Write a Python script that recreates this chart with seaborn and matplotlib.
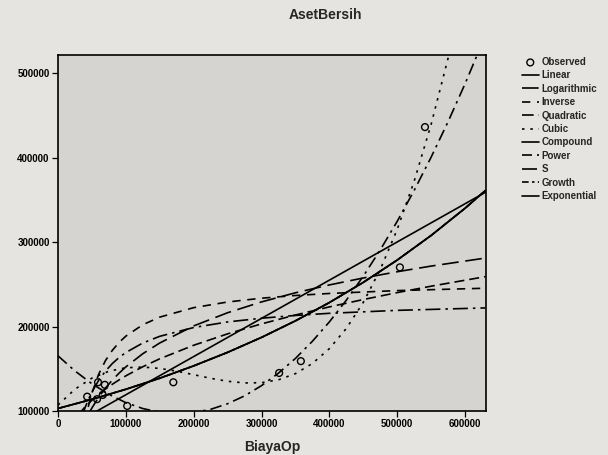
import numpy as np
import seaborn as sns
import matplotlib.pyplot as plt

# values (in thousands)
obs_x = [43, 57.5, 59, 66, 69, 102, 170, 326, 358, 504, 541]
obs_y = [117, 114, 134, 119, 131, 106, 134, 145, 159, 270, 436]

linear_x = [0, 630]
linear_y = [74, 358.8]

log_x = [45, 50, 60, 70, 80, 90, 100, 125, 150, 200, 250, 300, 350, 400, 450, 500, 550, 630]
log_y = [96.3, 103.6, 116.4, 127.2, 136.5, 144.8, 152.2, 167.8, 180.5, 200.7, 216.3,
         229.1, 239.9, 249.2, 257.4, 264.8, 271.5, 281.0]

inv_x = [40, 45, 50, 60, 70, 80, 90, 100, 125, 150, 200, 250, 300, 350, 400, 500, 630]
inv_y = [87.4, 106.2, 121.2, 143.6, 159.7, 171.7, 181.1, 188.6, 202.1, 211.1, 222.3,
         229.0, 233.5, 236.7, 239.1, 242.5, 245.3]

quad_x = [0, 25, 50, 75, 100, 125, 150, 177, 200, 225, 250, 275, 300, 325, 350, 375,
          400, 425, 450, 475, 500, 525, 550, 575, 600, 630]
quad_y = [165.3, 147.4, 132.2, 119.7, 109.9, 102.9, 98.6, 97.0, 98.2, 102.0, 108.6, 117.9,
          130.0, 144.8, 162.2, 182.5, 205.4, 231.1, 259.5, 290.6, 324.4, 361.0, 400.3,
          442.3, 487.1, 544.4]

cubic_x = [0, 25, 50, 75, 100, 125, 150, 175, 200, 225, 250, 275, 300, 325, 350, 375,
           400, 425, 450, 475, 500, 525, 550, 575, 600]
cubic_y = [107.1, 125.8, 138.9, 147.1, 151.2, 152.0, 150.4, 147.1, 143.0, 138.7, 135.2,
           133.2, 133.5, 136.9, 144.2, 156.2, 173.8, 197.6, 228.5, 267.3, 314.8, 371.8,
           439.0, 517.4, 607.6]

# compound, growth and exponential give the same curve
exp_x = [0, 50, 100, 150, 200, 250, 300, 350, 400, 450, 500, 550, 600, 630]
exp_y = [103, 113.8, 125.7, 138.8, 153.4, 169.4, 187.1, 206.7, 228.3, 252.2, 278.6,
         307.7, 339.9, 360.9]

pow_x = [30, 35, 40, 50, 60, 70, 80, 90, 100, 125, 150, 200, 250, 300, 350, 400, 450,
         500, 550, 630]
pow_y = [95.4, 100.4, 104.9, 112.8, 119.8, 126.0, 131.6, 136.8, 141.6, 152.4, 161.8,
         177.8, 191.3, 203.1, 213.6, 223.2, 231.9, 240.1, 247.7, 259.0]

s_x = [35, 40, 45, 50, 60, 70, 80, 90, 100, 125, 150, 200, 250, 300, 350, 400, 500, 630]
s_y = [92.9, 104.2, 114.0, 122.5, 136.4, 147.3, 156.1, 163.3, 169.2, 180.5, 188.4,
       198.8, 205.4, 209.8, 213.1, 215.6, 219.1, 222.0]

curves = [
    ('Linear', linear_x, linear_y, '-'),
    ('Logarithmic', log_x, log_y, (0, (10, 4))),
    ('Inverse', inv_x, inv_y, (0, (5, 4))),
    ('Quadratic', quad_x, quad_y, (0, (7, 3, 1.5, 3))),
    ('Cubic', cubic_x, cubic_y, (0, (1.5, 3.5))),
    ('Compound', exp_x, exp_y, '-'),
    ('Power', pow_x, pow_y, (0, (6, 3))),
    ('S', s_x, s_y, (0, (9, 3, 1.5, 3))),
    ('Growth', exp_x, exp_y, (0, (4, 2, 1.5, 2))),
    ('Exponential', exp_x, exp_y, '-'),
]

sns.set_style('white')
plt.rcParams['font.family'] = ['Liberation Sans', 'DejaVu Sans']

fig = plt.figure(figsize=(6.08, 4.55), dpi=100, facecolor='#e6e4e1')
ax = fig.add_axes([0.0954, 0.0967, 0.704, 0.7824])
ax.set_facecolor('#d6d4d1')

sns.scatterplot(x=np.array(obs_x) * 1000, y=np.array(obs_y) * 1000, ax=ax, marker='o',
                s=24, color='none', edgecolor='black', linewidth=1.0, label='Observed', zorder=5)

for name, xs, ys, ls in curves:
    sns.lineplot(x=np.array(xs) * 1000, y=np.array(ys) * 1000, ax=ax, color='black',
                 lw=1.2, linestyle=ls, label=name, estimator=None, sort=False)

ax.set_xlim(0, 631000)
ax.set_ylim(100000, 521300)
ax.set_xticks(range(0, 600001, 100000))
ax.set_yticks(range(100000, 500001, 100000))
ax.ticklabel_format(style='plain', useOffset=False)
ax.tick_params(direction='out', length=4, width=0.9, labelsize=7, pad=2,
               bottom=True, left=True, colors='black')
for lab in ax.get_xticklabels() + ax.get_yticklabels():
    lab.set_fontweight('bold')
for sp in ax.spines.values():
    sp.set_color('black')
    sp.set_linewidth(1.2)

ax.set_xlabel('BiayaOp', fontsize=10, fontweight='bold', labelpad=8)
ax.set_ylabel('')
fig.text(0.535, 0.966, 'AsetBersih', ha='center', va='center', fontsize=10, fontweight='bold')

ax.legend(loc='upper left', bbox_to_anchor=(522 / 608, 1 - 57 / 455),
          bbox_transform=fig.transFigure, frameon=False,
          handlelength=1.7, handletextpad=0.3, labelspacing=0.35,
          borderpad=0, borderaxespad=0, prop={'weight': 'bold', 'size': 7})

fig.savefig('out.png', dpi=100, facecolor=fig.get_facecolor())
